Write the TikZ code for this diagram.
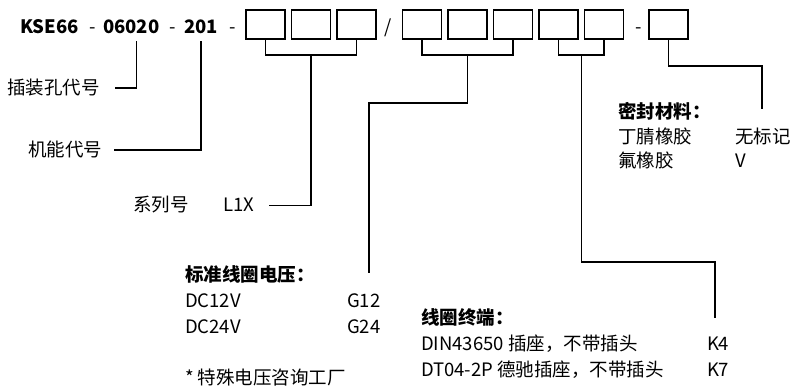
\documentclass[tikz,border=0pt]{standalone}
\usepackage{fontspec}
\setmainfont{Noto Sans CJK SC}
\usepackage{tikz}
\usetikzlibrary{positioning,calc}

\begin{document}
\begin{tikzpicture}[x=1pt,y=-1pt,
line width=1.2pt,
every node/.style={inner sep=0pt,outer sep=0pt,anchor=base west,
font=\fontsize{18.5}{22}\selectfont},
head/.style={font=\fontsize{18.5}{22}\selectfont\bfseries},
box/.style={draw,anchor=center,minimum width=39pt,minimum height=29pt}]
\useasboundingbox (0,0) rectangle (792,387);
% model code
\node[head] (code1) at (20,34) {KSE66};
\node (m1) at (89,34) {-};
\node[head] (code2) at (103,34) {06020};
\node (m2) at (169,34) {-};
\node[head] (code3) at (184,34) {201};
\node (m3) at (229,34) {-};
\node[box] (b1) at (265.5,24.5) {};
\node[box,right=6.5pt of b1] (b2) {};
\node[box,right=6.5pt of b2] (b3) {};
\node (sl) at (384,34) {/};
\node[box] (c1) at (422,24.5) {};
\node[box,right=6.5pt of c1] (c2) {};
\node[box,right=6.5pt of c2] (c3) {};
\node[box,right=6.5pt of c3] (c4) {};
\node[box,right=6.5pt of c4] (c5) {};
\node (m4) at (635,34) {-};
\node[box] (d1) at (668.5,24.5) {};
% labels
\node (hole) at (7,95) {插装孔代号};
\node (func) at (28,157) {机能代号};
\node (ser) at (133,212) {系列号};
\node (l1x) at (223,212) {L1X};
\node[head] (volt) at (185,281) {标准线圈电压：};
\node (dc12) at (185,307) {DC12V};
\node (g12) at (347,307) {G12};
\node (dc24) at (185,333) {DC24V};
\node (g24) at (347,333) {G24};
\node (note) at (185,384) {* 特殊电压咨询工厂};
\node[head] (term) at (421,324) {线圈终端：};
\node (din) at (421,350) {DIN43650 插座，不带插头};
\node (k4) at (707,350) {K4};
\node (dt) at (421,376) {DT04-2P 德驰插座，不带插头};
\node (k7) at (707,376) {K7};
\node[head] (seal) at (618,119) {密封材料：};
\node (nbr) at (618,144) {丁腈橡胶};
\node (none) at (735,144) {无标记};
\node (fkm) at (618,168) {氟橡胶};
\node (v) at (735,168) {V};
\coordinate (voltend) at (369,273);
\coordinate (termend) at (715,318);
\coordinate (sealend) at (762,109);
% connectors
\draw ([xshift=5pt]code2.south) ++(0,7) |- ([xshift=15pt]hole.east);
\draw (code3.south) ++(0,7) |- ([xshift=12pt]func.east);
\draw (b1.south) -- ++(0,16) -| (b3.south);
\draw (b2.south) ++(0,16) |- ([xshift=15pt]l1x.east);
\draw (c1.south) -- ++(0,16) -| (c3.south);
\draw (c2.south) ++(0,16) -- ++(0,48) -| (voltend);
\draw (c4.south) -- ++(0,16) -| (c5.south);
\draw ($(c4.south)!0.5!(c5.south)$) ++(0,16) -- ++(0,207) -| (termend);
\draw (d1.south) -- ++(0,27) -| (sealend);
\end{tikzpicture}
\end{document}
